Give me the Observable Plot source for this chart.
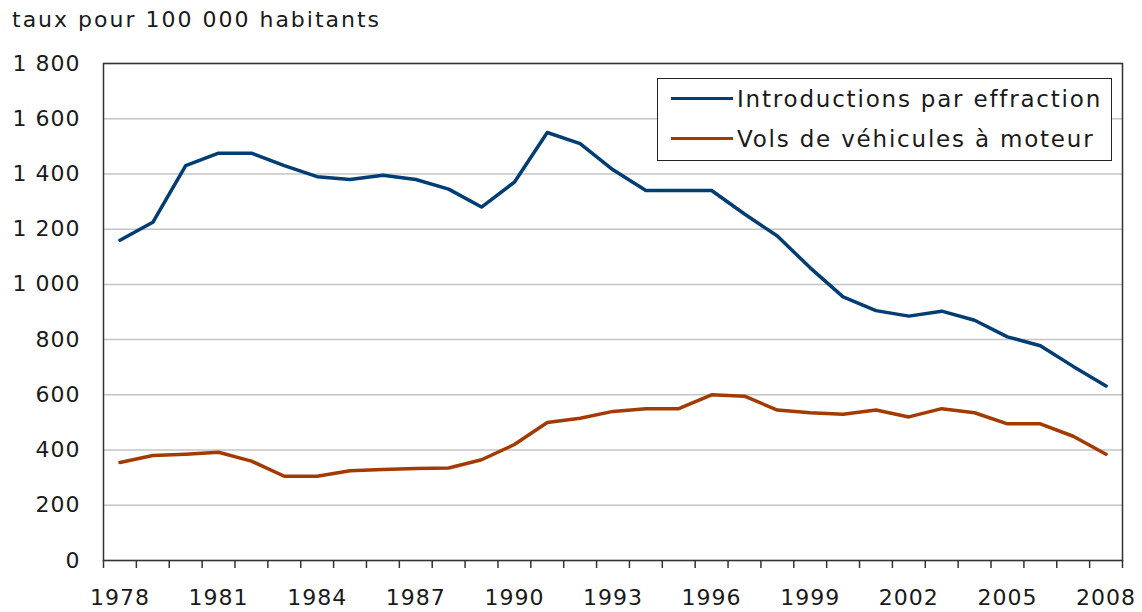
<!DOCTYPE html>
<html><head><meta charset="utf-8">
<script src="https://cdn.jsdelivr.net/npm/d3@7"></script>
<script src="https://cdn.jsdelivr.net/npm/@observablehq/plot@0.6"></script>
<style>
body{margin:0;background:#fff;font-family:"DejaVu Sans",sans-serif;color:#1a1a1a}
#wrap{position:relative;width:1142px;height:612px;overflow:hidden;background:#fff}
#title{position:absolute;left:12px;top:9px;font-size:22px;line-height:22px;letter-spacing:2px;white-space:nowrap}
#chart{position:absolute;left:0;top:40px}
#legend{position:absolute;left:657px;top:78px;width:453px;height:81px;border:1.5px solid #222;background:#fff}
.item{position:absolute;left:13px;height:30px;display:flex;align-items:center;white-space:nowrap;font-size:23px;letter-spacing:1.8px}
.sw{width:62px;height:3.5px;margin-right:4px}
</style></head><body>
<div id="wrap"><div id="title"></div><div id="chart"></div><div id="legend"></div></div>
<script>
const titleText = "taux pour 100 000 habitants";
const years = [1978,1979,1980,1981,1982,1983,1984,1985,1986,1987,1988,1989,1990,1991,1992,1993,1994,1995,1996,1997,1998,1999,2000,2001,2002,2003,2004,2005,2006,2007,2008];
const breakIns = [1160,1225,1430,1475,1475,1430,1390,1380,1395,1380,1345,1280,1370,1550,1510,1415,1340,1340,1340,1255,1175,1060,955,905,885,903,870,810,778,703,632];
const vehicles = [355,380,385,392,360,305,305,325,330,333,335,365,420,500,515,540,550,550,600,595,545,535,530,545,520,550,535,495,495,450,385];
const seriesNames = ["Introductions par effraction","Vols de véhicules à moteur"];
const seriesColors = ["#003d73","#a33b00"];
const yTicks = [0,200,400,600,800,1000,1200,1400,1600,1800];
const xLabelYears = [1978,1981,1984,1987,1990,1993,1996,1999,2002,2005,2008];

document.getElementById("title").textContent = titleText;

const data = years.flatMap((y,i)=>[
  {year:y, value:breakIns[i], series:seriesNames[0]},
  {year:y, value:vehicles[i], series:seriesNames[1]}
]);
const boundaries = years.map(y=>y-0.5).concat([years[years.length-1]+0.5]);
const fmt = d => d >= 1000 ? `${Math.floor(d/1000)} ${String(d%1000).padStart(3,"0")}` : String(d);

const chart = Plot.plot({
  width:1142, height:572,
  marginTop:23, marginBottom:52, marginLeft:103, marginRight:20,
  style:{fontFamily:"DejaVu Sans", fontSize:"22px", color:"#1a1a1a", background:"#fff", letterSpacing:"1px"},
  x:{type:"linear", domain:[years[0]-0.5, years[years.length-1]+0.5]},
  y:{domain:[0,1800]},
  color:{domain:seriesNames, range:seriesColors},
  marks:[
    Plot.gridY(yTicks,{stroke:"#c4c4c4", strokeOpacity:1, strokeWidth:1.5}),
    Plot.axisY(yTicks,{tickSize:0, tickPadding:23, tickFormat:fmt, label:null}),
    Plot.axisX(boundaries,{tickSize:8, tickFormat:()=>"", label:null, stroke:"#333", strokeWidth:1.5}),
    Plot.axisX(xLabelYears,{tickSize:0, tickPadding:29, tickFormat:d=>String(d), label:null}),
    Plot.line(data,{x:"year", y:"value", stroke:"series", strokeWidth:3.5}),
    Plot.frame({stroke:"#333", strokeWidth:1.5})
  ]
});
document.getElementById("chart").appendChild(chart);

const legend = document.getElementById("legend");
seriesNames.forEach((name,i)=>{
  const it = document.createElement("div");
  it.className = "item";
  it.style.top = (4.5 + i*40) + "px";
  const sw = document.createElement("div");
  sw.className = "sw";
  sw.style.background = seriesColors[i];
  const tx = document.createElement("span");
  tx.textContent = name;
  it.appendChild(sw); it.appendChild(tx);
  legend.appendChild(it);
});
</script>
</body></html>
